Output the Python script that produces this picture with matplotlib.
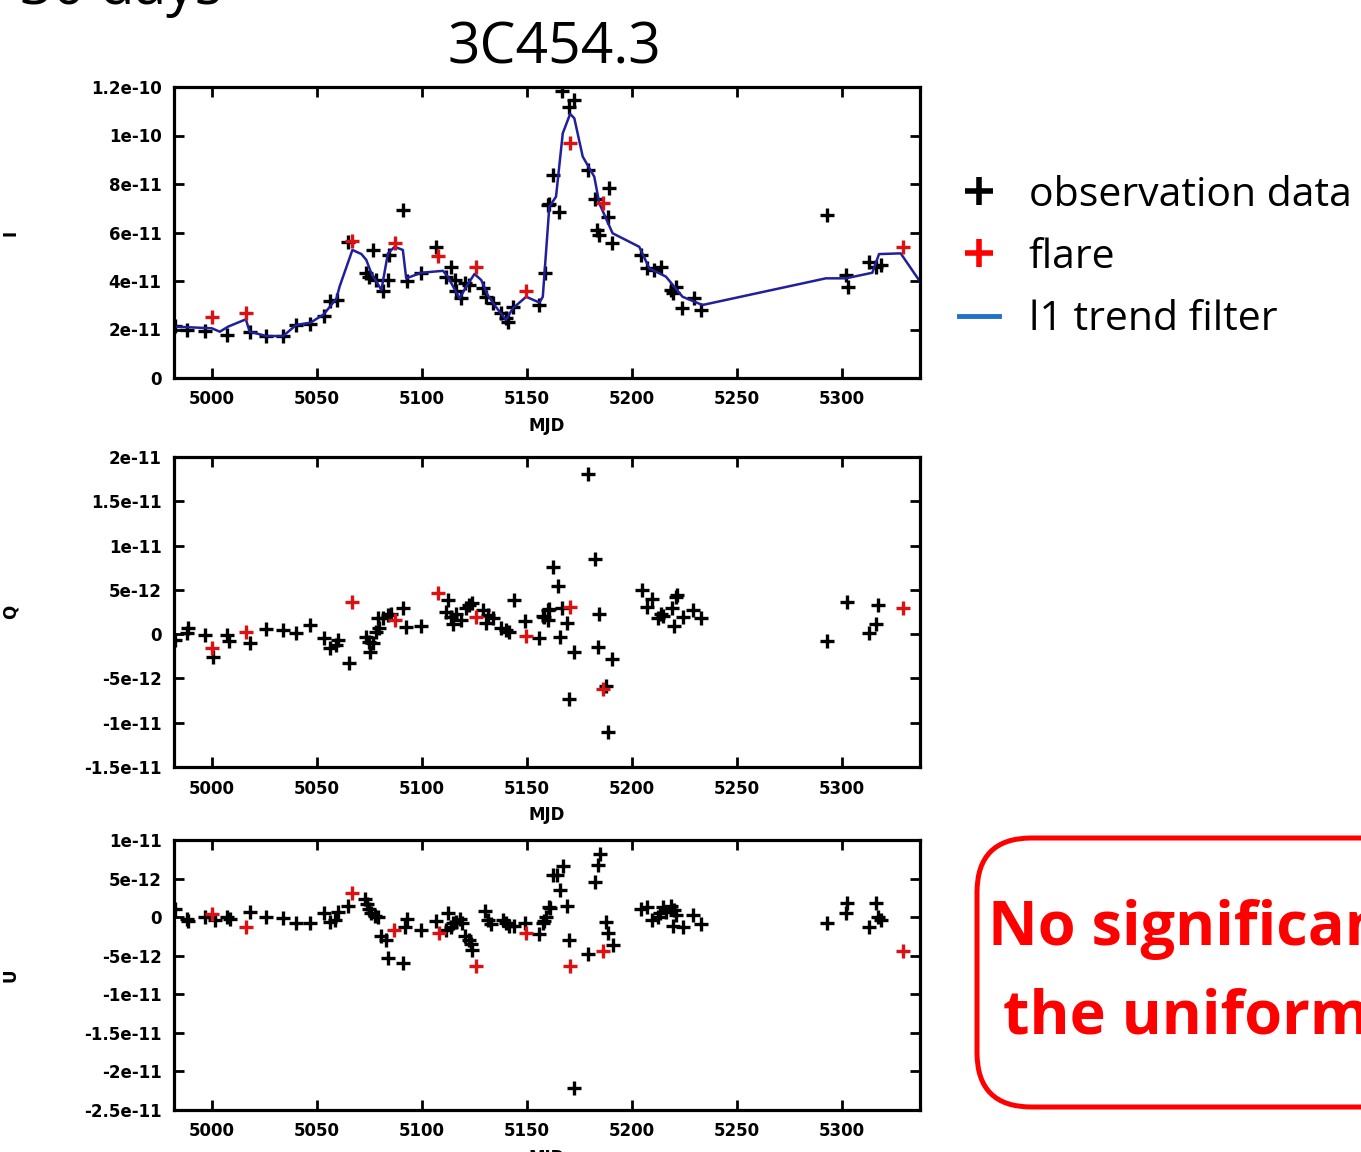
import matplotlib
matplotlib.use("Agg")
import matplotlib.pyplot as plt
from matplotlib.lines import Line2D
from matplotlib.patches import FancyBboxPatch
import numpy as np

# ---------------- data (MJD - 50000, values in units of 1e-12) ----------------
I_obs_mjd = [4982.4, 4988.0, 4996.7, 5007.3, 5018.0, 5026.0, 5033.9, 5040.2, 5046.9, 5053.2,
             5056.1, 5059.7, 5064.8, 5073.5, 5076.7, 5075.0, 5078.3, 5081.4, 5083.8, 5084.1,
             5090.9, 5092.8, 5099.7, 5106.8, 5113.9, 5111.5, 5115.5, 5116.3, 5118.7, 5120.3,
             5122.6, 5129.0, 5130.6, 5133.7, 5137.7, 5140.0, 5140.8, 5143.2, 5155.9, 5158.7,
             5159.8, 5160.6, 5162.2, 5165.1, 5166.7, 5169.8, 5172.5, 5178.8, 5182.5, 5188.8,
             5188.4, 5183.1, 5184.4, 5190.4, 5204.2, 5207.3, 5210.6, 5213.7, 5218.5, 5220.9,
             5219.3, 5223.7, 5229.6, 5232.7, 5292.9, 5301.7, 5302.9, 5312.7, 5315.9, 5318.3]
I_obs = [21.4, 19.8, 19.5, 17.7, 19.1, 17.3, 17.3, 21.9, 22.3, 25.6,
         31.9, 32.2, 56.2, 43.4, 52.8, 41.8, 40.4, 36.0, 40.4, 50.7,
         69.3, 40.1, 43.4, 54.1, 45.9, 41.8, 40.4, 36.0, 32.8, 39.0,
         38.4, 37.0, 33.5, 30.8, 26.7, 24.6, 23.2, 29.4, 30.1, 43.2,
         71.3, 71.8, 83.7, 68.6, 118.5, 111.9, 114.6, 85.8, 74.0, 78.2,
         66.5, 61.0, 59.0, 55.5, 50.7, 45.2, 44.5, 45.9, 36.3, 37.6,
         35.2, 28.7, 32.8, 28.0, 67.2, 42.5, 37.6, 48.0, 45.9, 46.6]
I_flare_mjd = [5000.3, 5016.2, 5066.9, 5087.0, 5107.8, 5125.8, 5149.6, 5170.5, 5186.3, 5329.0]
I_flare = [25.0, 26.9, 56.5, 55.5, 50.3, 45.9, 36.0, 96.8, 72.3, 53.9]

trend_mjd = [4982.0, 5000.0, 5003.8, 5007.8, 5016.2, 5018.0, 5026.0, 5033.9, 5040.2, 5046.9,
             5053.2, 5059.3, 5060.8, 5066.9, 5071.2, 5073.5, 5075.9, 5080.7, 5083.8, 5087.0,
             5090.9, 5092.5, 5099.7, 5110.0, 5112.3, 5117.9, 5121.1, 5125.0, 5128.2, 5131.3,
             5134.5, 5140.0, 5143.2, 5149.6, 5155.9, 5157.5, 5160.6, 5163.8, 5167.0, 5170.5,
             5172.5, 5176.5, 5182.0, 5184.4, 5190.7, 5203.4, 5208.2, 5216.1, 5224.0, 5233.5,
             5292.2, 5301.7, 5314.3, 5317.5, 5327.8, 5336.5]
trend_I = [21.2, 20.5, 19.1, 21.2, 24.2, 19.1, 17.3, 17.3, 21.9, 22.8,
           26.2, 32.8, 37.7, 52.8, 51.1, 48.7, 43.2, 36.3, 51.4, 54.1,
           52.8, 41.1, 43.4, 44.2, 41.8, 32.8, 37.7, 42.9, 40.4, 34.2,
           30.1, 23.9, 28.7, 33.5, 31.1, 33.5, 70.6, 74.8, 100.9, 108.9,
           107.1, 91.3, 83.0, 72.0, 59.7, 54.1, 45.2, 41.8, 33.5, 30.1,
           41.1, 41.1, 43.4, 51.1, 51.4, 40.4]

Q_obs_mjd = [4982.4, 4988.7, 4988.0, 4996.7, 5000.6, 5007.0, 5008.2, 5018.0, 5026.0, 5033.9,
             5040.2, 5046.9, 5053.2, 5056.1, 5059.3, 5060.0, 5065.1, 5073.2, 5074.8, 5075.1,
             5076.7, 5078.3, 5079.5, 5079.0, 5081.4, 5083.8, 5085.4, 5090.9, 5092.5, 5099.7,
             5112.3, 5111.5, 5113.9, 5114.7, 5116.3, 5118.7, 5121.1, 5122.6, 5123.9, 5129.0,
             5131.3, 5130.6, 5133.7, 5137.7, 5140.0, 5141.6, 5144.0, 5148.8, 5155.6, 5157.5,
             5159.8, 5162.5, 5164.6, 5158.3, 5159.9, 5160.6, 5165.7, 5166.7, 5168.9, 5172.5,
             5169.8, 5178.8, 5182.5, 5184.4, 5183.6, 5187.5, 5190.4, 5188.4, 5204.7, 5207.3,
             5209.7, 5212.1, 5213.7, 5214.5, 5219.0, 5220.1, 5220.9, 5221.6, 5224.0, 5229.1,
             5232.7, 5292.9, 5302.4, 5312.7, 5315.9, 5317.2]
Q_obs = [-0.68, 0.64, 0.08, -0.11, -2.6, -0.11, -0.76, -0.98, 0.53, 0.45,
         0.15, 1.02, -0.49, -1.6, -1.24, -0.68, -3.3, -0.3, -0.87, -2.0,
         -1.05, 0.26, 0.64, 1.77, 1.77, 2.14, 2.3, 2.9, 0.83, 0.9,
         3.9, 2.5, 1.95, 1.2, 2.3, 1.58, 2.9, 3.3, 3.46, 2.7,
         2.14, 1.28, 1.77, 0.64, 0.45, 0.26, 3.84, 1.5, -0.49, 2.0,
         2.7, 7.6, 5.4, 1.95, 1.58, 2.8, -0.3, 2.9, 1.28, -2.0,
         -7.3, 18.1, 8.5, 2.26, -1.43, -5.8, -2.75, -11.1, 5.0, 3.1,
         4.0, 1.77, 2.3, 2.1, 2.9, 0.9, 4.2, 4.4, 1.88, 2.7,
         1.84, -0.79, 3.65, 0.15, 1.2, 3.27]
Q_flare_mjd = [5000.3, 5016.2, 5066.9, 5087.0, 5107.6, 5125.8, 5149.6, 5170.5, 5186.3, 5329.0]
Q_flare = [-1.6, 0.26, 3.65, 1.58, 4.6, 1.88, -0.23, 3.1, -6.2, 2.9]

U_obs_mjd = [4982.4, 4988.0, 4988.7, 4996.7, 5001.4, 5007.0, 5008.6, 5018.0, 5026.0, 5033.9,
             5040.2, 5046.6, 5053.2, 5056.1, 5058.5, 5060.0, 5064.8, 5072.7, 5073.8, 5074.8,
             5075.9, 5077.5, 5079.0, 5080.7, 5082.7, 5083.8, 5090.9, 5091.7, 5092.8, 5099.7,
             5106.8, 5112.3, 5111.5, 5113.9, 5114.7, 5116.3, 5117.9, 5119.2, 5120.3, 5122.3,
             5123.4, 5123.9, 5129.8, 5131.3, 5132.9, 5138.5, 5140.0, 5141.6, 5144.0, 5149.2,
             5155.6, 5157.8, 5159.1, 5160.4, 5158.3, 5161.0, 5162.5, 5164.1, 5167.0, 5165.7,
             5168.9, 5169.8, 5172.5, 5178.8, 5182.5, 5183.6, 5184.7, 5187.6, 5188.4, 5190.7,
             5204.2, 5207.3, 5209.7, 5212.1, 5213.2, 5214.8, 5216.1, 5218.5, 5220.1, 5220.9,
             5219.6, 5224.0, 5229.1, 5232.7, 5292.9, 5302.4, 5301.7, 5312.7, 5315.9, 5317.2,
             5318.3]
U_obs = [1.0, -0.3, -0.48, -0.04, -0.39, 0.0, -0.3, 0.69, -0.04, -0.17,
         -0.74, -0.74, 0.48, -0.6, -0.39, 0.69, 1.43, 2.3, 1.69, 1.0,
         0.48, 0.13, -0.04, -2.46, -2.98, -5.36, -5.88, -1.34, -0.3, -1.69,
         -0.48, 0.48, -1.69, -1.26, -0.82, -0.6, -0.3, -0.82, -2.46, -2.9,
         -3.5, -4.28, 0.82, -0.39, -0.9, -0.39, -0.82, -1.17, -1.17, -0.74,
         -2.2, -0.74, -0.04, 1.26, -0.48, 1.13, 5.45, 5.45, 6.6, 3.5,
         1.43, -2.9, -22.1, -4.8, 4.58, 6.74, 8.17, -0.6, -2.03, -3.63,
         1.0, 1.26, -0.39, -0.04, 0.48, 1.26, 0.69, 1.43, 0.91, 0.26,
         -1.17, -1.34, 0.26, -0.9, -0.82, 1.77, 0.48, -1.26, 1.77, 0.04,
         -0.39]
U_flare_mjd = [4999.9, 5016.2, 5066.9, 5086.5, 5108.0, 5125.8, 5149.6, 5170.5, 5186.3, 5329.0]
U_flare = [0.39, -1.26, 3.15, -1.69, -2.11, -6.36, -2.11, -6.36, -4.37, -4.37]

x_ticks = [5000, 5050, 5100, 5150, 5200, 5250, 5300]
I_ticks = [0, 2e-11, 4e-11, 6e-11, 8e-11, 1e-10, 1.2e-10]
I_ticklabels = ["0", "2e-11", "4e-11", "6e-11", "8e-11", "1e-10", "1.2e-10"]
Q_ticks = [-1.5e-11, -1e-11, -5e-12, 0, 5e-12, 1e-11, 1.5e-11, 2e-11]
Q_ticklabels = ["-1.5e-11", "-1e-11", "-5e-12", "0", "5e-12", "1e-11", "1.5e-11", "2e-11"]
U_ticks = [-2.5e-11, -2e-11, -1.5e-11, -1e-11, -5e-12, 0, 5e-12, 1e-11]
U_ticklabels = ["-2.5e-11", "-2e-11", "-1.5e-11", "-1e-11", "-5e-12", "0", "5e-12", "1e-11"]

legend_labels = ["observation data", "flare", "l1 trend filter"]
title_text = "3C454.3"
box_lines = ["No significant", "the uniform"]

# ---------------- figure ----------------
W, H = 1361, 1152
fig = plt.figure(figsize=(W / 100, H / 100), dpi=100)
fig.patch.set_facecolor("white")

def frac_rect(x0, y0, x1, y1):
    return [x0 / W, 1 - y1 / H, (x1 - x0) / W, (y1 - y0) / H]

axI = fig.add_axes(frac_rect(174, 87, 920, 378))
axQ = fig.add_axes(frac_rect(174, 457, 920, 767))
axU = fig.add_axes(frac_rect(174, 840, 920, 1110))

scale = 1e-12
mk = dict(marker="+", linestyle="none", markersize=9.5, markeredgewidth=2.4)
tick_font = {"family": "DejaVu Sans", "weight": "bold", "size": 12}

def style(ax, yticks, ylabels, ylim, ylab):
    ax.set_xlim(4982, 5337)
    ax.set_ylim(*ylim)
    ax.set_xticks(x_ticks)
    ax.set_xticklabels([str(t) for t in x_ticks], fontdict=tick_font)
    ax.set_yticks(yticks)
    ax.set_yticklabels(ylabels, fontdict=tick_font)
    ax.tick_params(direction="in", length=7, width=2, top=True, right=True, pad=9)
    for s in ax.spines.values():
        s.set_linewidth(2.3)
    ax.set_xlabel("MJD", fontdict=tick_font, labelpad=6)
    ax.set_ylabel(ylab, fontdict=tick_font)
    ax.yaxis.set_label_coords(-0.207, 0.5)

axI.plot(I_obs_mjd, np.array(I_obs) * scale, color="black", **mk)
axI.plot(trend_mjd, np.array(trend_I) * scale, color="#20209c", lw=1.8)
axI.plot(I_flare_mjd, np.array(I_flare) * scale, color="#dd1111", **mk)
style(axI, I_ticks, I_ticklabels, (0, 1.2e-10), "I")

axQ.plot(Q_obs_mjd, np.array(Q_obs) * scale, color="black", **mk)
axQ.plot(Q_flare_mjd, np.array(Q_flare) * scale, color="#dd1111", **mk)
style(axQ, Q_ticks, Q_ticklabels, (-1.5e-11, 2e-11), "Q")

axU.plot(U_obs_mjd, np.array(U_obs) * scale, color="black", **mk)
axU.plot(U_flare_mjd, np.array(U_flare) * scale, color="#dd1111", **mk)
style(axU, U_ticks, U_ticklabels, (-2.5e-11, 1e-11), "U")

# title & cut-off heading
fig.text(554 / W, 1 - 63 / H, title_text, fontsize=41, family="Open Sans",
         ha="center", va="baseline")
fig.text(222 / W, 1 - 4 / H, "30 days", fontsize=41, family="Open Sans",
         ha="right", va="baseline")

# legend
handles = [Line2D([], [], marker="+", color="black", ls="none", markersize=20, markeredgewidth=4),
           Line2D([], [], marker="+", color="#ff0000", ls="none", markersize=20, markeredgewidth=4),
           Line2D([], [], color="#1f72c4", lw=3.5)]
leg = fig.legend(handles, legend_labels, loc="upper left",
                 bbox_to_anchor=(959 / W, 1 - 175 / H),
                 prop={"family": "Open Sans", "size": 29.5},
                 frameon=False, handlelength=0.98, handletextpad=0.72,
                 labelspacing=0.53, borderpad=0, borderaxespad=0)

# red rounded box with text
box = FancyBboxPatch((977 / W, 1 - 1107 / H), 500 / W, (1107 - 838) / H,
                     boxstyle="round,pad=0,rounding_size=0.04",
                     transform=fig.transFigure, facecolor="white",
                     edgecolor="#ff0000", linewidth=3.6, mutation_aspect=W / H)
fig.patches.append(box)
fig.text(988 / W, 1 - 945 / H, box_lines[0], fontsize=44, family="Open Sans",
         fontweight="bold", color="#ff0000", ha="left", va="baseline")
fig.text(1003 / W, 1 - 1033 / H, box_lines[1], fontsize=44, family="Open Sans",
         fontweight="bold", color="#ff0000", ha="left", va="baseline")

fig.savefig("out.png", dpi=100)
